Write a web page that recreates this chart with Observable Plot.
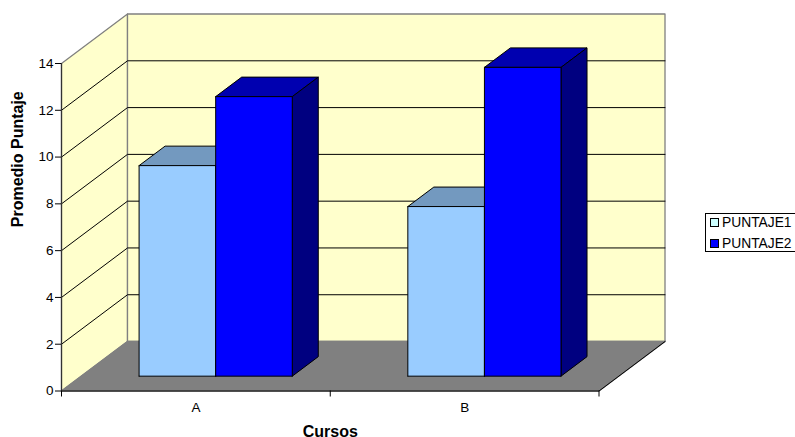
<!DOCTYPE html>
<html>
<head>
<meta charset="utf-8">
<script src="https://cdn.jsdelivr.net/npm/d3@7"></script>
<script src="https://cdn.jsdelivr.net/npm/@observablehq/plot@0.6"></script>
<style>
  html, body { margin: 0; padding: 0; background: #fff; }
  #chart { position: relative; width: 795px; height: 437px; overflow: hidden; font-family: "Liberation Sans", Arial, sans-serif; }
  #legend { position: absolute; left: 705px; top: 213px; width: 90px; height: 39px; box-sizing: border-box; border: 1px solid #000; border-right: 0; background: #fff; font-size: 13.8px; color: #000; }
  #legend div { position: absolute; left: 16px; height: 16px; line-height: 16px; white-space: nowrap; }
  #legend i { position: absolute; left: -12px; top: 3px; width: 9px; height: 9px; box-sizing: border-box; border: 1px solid #000; }
</style>
</head>
<body>
<div id="chart"></div>
<script>
// Average score per course, one value per series
const cursos = ["A", "B"];
const puntaje1 = [9.0, 7.25];
const puntaje2 = [11.95, 13.2];
const yTicks = [0, 2, 4, 6, 8, 10, 12, 14];
const seriesNames = ["PUNTAJE1", "PUNTAJE2"];

// Oblique projection: a point at depth d in [0, 1] shifts right and up in data units
const depthX = 0.2456;
const depthY = 2.115;
const at = (x, y, d) => [x + d * depthX, y + d * depthY];

// Bars occupy this slice of the floor's depth and this share of each category
const barFront = 0.3;
const barBack = 0.694;
const barWidth = 0.285;
const barGap = (1 - 2 * barWidth) / 2;

const xMax = cursos.length;
const yMax = yTicks[yTicks.length - 1];

const polyline = (points, options) =>
  Plot.line(points, {x: (d) => d[0], y: (d) => d[1], ...options});
const face = (points, options) => polyline([...points, points[0]], options);

const wallEdge = {stroke: "#808080", strokeWidth: 1.3};
const walls = [
  face([at(0, 0, 0), at(0, yMax, 0), at(0, yMax, 1), at(0, 0, 1)], {fill: "#FFFFCC", ...wallEdge}),
  face([at(0, 0, 1), at(0, yMax, 1), at(xMax, yMax, 1), at(xMax, 0, 1)], {fill: "#FFFFCC", ...wallEdge})
];

const gridlines = yTicks.slice(1, -1).map((t) =>
  polyline([at(0, t, 0), at(0, t, 1), at(xMax, t, 1)], {stroke: "#000", strokeWidth: 1})
);

const floor = [
  face([at(0, 0, 0), at(xMax, 0, 0), at(xMax, 0, 1), at(0, 0, 1)], {fill: "#808080", stroke: "#808080"}),
  polyline([at(0, 0, 0), at(xMax, 0, 0), at(xMax, 0, 1)], {stroke: "#000", strokeWidth: 1})
];

// One box: top and right faces behind the front face
function box(x0, value, palette) {
  const x1 = x0 + barWidth;
  const edge = {stroke: "#000", strokeWidth: 1};
  return [
    face([at(x0, value, barFront), at(x1, value, barFront), at(x1, value, barBack), at(x0, value, barBack)], {fill: palette.top, ...edge}),
    face([at(x1, 0, barFront), at(x1, value, barFront), at(x1, value, barBack), at(x1, 0, barBack)], {fill: palette.side, ...edge}),
    face([at(x0, 0, barFront), at(x1, 0, barFront), at(x1, value, barFront), at(x0, value, barFront)], {fill: palette.front, ...edge})
  ];
}

const lightBlue = {front: "#99CCFF", top: "#7399BF", side: "#4D6680"};
const deepBlue = {front: "#0000FF", top: "#0000B0", side: "#000080"};

const bars = cursos.flatMap((_, i) => [
  ...box(i + barGap, puntaje1[i], lightBlue),
  ...box(i + barGap + barWidth, puntaje2[i], deepBlue)
]);

// Category boundaries carry tick marks, category centres carry the labels
const boundaries = d3.range(xMax + 1);
const centres = cursos.map((_, i) => i + 0.5);

const plot = Plot.plot({
  width: 795,
  height: 437,
  marginTop: 63, marginRight: 196.5, marginBottom: 46.5, marginLeft: 61,
  style: {fontFamily: "'Liberation Sans', Arial, sans-serif", background: "transparent", color: "#000", overflow: "visible"},
  x: {domain: [0, xMax]},
  y: {domain: [0, yMax]},
  marks: [
    ...walls,
    ...gridlines,
    ...floor,
    ...bars,
    Plot.ruleX([0], {y1: 0, y2: yMax, stroke: "#333", strokeWidth: 1.2}),
    Plot.axisY({ticks: yTicks, tickSize: 6, tickPadding: 2, fontSize: 13.5, label: null, tickFormat: (d) => String(d)}),
    Plot.axisX({ticks: boundaries, tickSize: 6, tickFormat: () => "", label: null}),
    Plot.axisX({ticks: centres, tickSize: 0, tickPadding: 11, fontSize: 13.5, tickFormat: (d) => cursos[Math.floor(d)], label: null}),
    Plot.text(["Promedio Puntaje"], {frameAnchor: "left", dx: -44, y: yMax / 2, rotate: -90, fontWeight: "bold", fontSize: 16}),
    Plot.text(["Cursos"], {x: xMax / 2, y: 0, dy: 41, fontWeight: "bold", fontSize: 16})
  ]
});

const chart = document.getElementById("chart");
chart.appendChild(plot);

// Series key to the right of the plot area
const legend = document.createElement("div");
legend.id = "legend";
[["#CCFFFF", 0], ["#0000FF", 1]].forEach(([color, i]) => {
  const row = document.createElement("div");
  row.style.top = (i === 0 ? 1 : 22) + "px";
  const swatch = document.createElement("i");
  swatch.style.background = color;
  row.appendChild(swatch);
  row.appendChild(document.createTextNode(seriesNames[i]));
  legend.appendChild(row);
});
chart.appendChild(legend);
</script>
</body>
</html>
